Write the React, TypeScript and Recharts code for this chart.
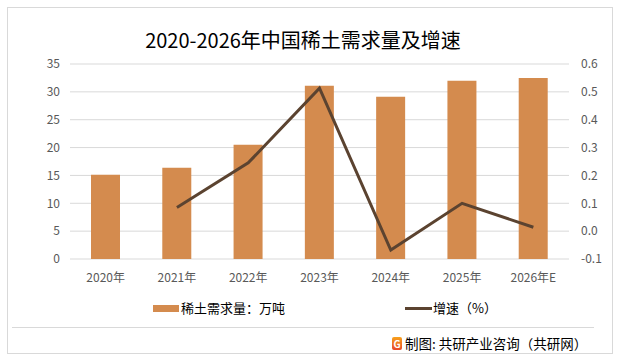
import { Bar, CartesianGrid, ComposedChart, Line, XAxis, YAxis } from 'recharts'

const years = ['2020年', '2021年', '2022年', '2023年', '2024年', '2025年', '2026年E']
const demand = [15.1, 16.4, 20.5, 31.1, 29.1, 32.0, 32.5]
const growth = [null, 0.085, 0.245, 0.513, -0.068, 0.1, 0.014]
const leftTicks = [0, 5, 10, 15, 20, 25, 30, 35]
const rightTicks = [-0.1, 0, 0.1, 0.2, 0.3, 0.4, 0.5, 0.6]

const data = years.map((year, i) => ({ year, demand: demand[i], growth: growth[i] }))

const FONT = "'Noto Sans CJK SC', 'Noto Sans', sans-serif"
const BAR = '#D48B4E'
const LINE = '#5B4330'
const tick = { fill: '#595959', fontSize: 12, fontFamily: FONT }

export default function App() {
  return (
    <div
      style={{
        position: 'absolute',
        left: 0,
        top: 0,
        width: 619,
        height: 363,
        background: '#fff',
        fontFamily: FONT,
      }}
    >
      {/* outer frame */}
      <div
        style={{
          position: 'absolute',
          left: 7,
          top: 7,
          width: 604,
          height: 345,
          border: '1px solid #d9d9d9',
        }}
      />
      <div
        style={{
          position: 'absolute',
          left: 0,
          top: 26,
          width: 606,
          textAlign: 'center',
          fontSize: 20,
          lineHeight: '28px',
          color: '#000',
        }}
      >
        2020-2026年中国稀土需求量及增速
      </div>

      <div style={{ position: 'absolute', left: 0, top: 0 }}>
        <ComposedChart
          width={619}
          height={363}
          data={data}
          margin={{ top: 64, right: 0, left: 0, bottom: 74 }}
        >
          <CartesianGrid vertical={false} stroke="#d9d9d9" yAxisId="left" />
          <XAxis
            dataKey="year"
            axisLine={false}
            tickLine={false}
            tick={tick}
            tickMargin={8}
            height={30}
          />
          <YAxis
            yAxisId="left"
            domain={[0, 35]}
            ticks={leftTicks}
            axisLine={false}
            tickLine={false}
            tick={tick}
            tickMargin={4}
            width={70}
          />
          <YAxis
            yAxisId="right"
            orientation="right"
            domain={[-0.1, 0.6]}
            ticks={rightTicks}
            axisLine={false}
            tickLine={false}
            tick={{ ...tick, textAnchor: 'start' }}
            tickMargin={6}
            tickFormatter={(v: number) => v.toFixed(1)}
            width={50}
          />
          <Bar
            yAxisId="left"
            dataKey="demand"
            fill={BAR}
            barSize={29}
            isAnimationActive={false}
          />
          <Line
            yAxisId="right"
            dataKey="growth"
            stroke={LINE}
            strokeWidth={3}
            dot={false}
            activeDot={false}
            isAnimationActive={false}
          />
        </ComposedChart>
      </div>

      {/* legend */}
      <div
        style={{
          position: 'absolute',
          left: 153,
          top: 299,
          display: 'flex',
          alignItems: 'center',
          fontSize: 13,
          lineHeight: '18px',
          color: '#000',
        }}
      >
        <span style={{ width: 26, height: 7, background: BAR, marginRight: 2 }} />
        稀土需求量：万吨
      </div>
      <div
        style={{
          position: 'absolute',
          left: 405,
          top: 299,
          display: 'flex',
          alignItems: 'center',
          fontSize: 13,
          lineHeight: '18px',
          color: '#000',
        }}
      >
        <span style={{ width: 27, height: 3, background: LINE, marginRight: 1 }} />
        增速（%）
      </div>

      <div
        style={{
          position: 'absolute',
          left: 12,
          top: 327,
          width: 582,
          height: 1,
          background: '#d9d9d9',
        }}
      />

      {/* source */}
      <div
        style={{
          position: 'absolute',
          left: 392,
          top: 334,
          display: 'flex',
          alignItems: 'center',
          fontSize: 13.5,
          lineHeight: '18px',
          color: '#000',
        }}
      >
        <span
          style={{
            width: 10,
            height: 13,
            marginRight: 3,
            borderRadius: 2,
            background: 'linear-gradient(#f7a21b, #e8462a)',
            color: '#fff',
            fontSize: 10,
            lineHeight: '13px',
            textAlign: 'center',
            fontWeight: 700,
          }}
        >
          G
        </span>
        制图: 共研产业咨询（共研网）
      </div>
    </div>
  )
}
